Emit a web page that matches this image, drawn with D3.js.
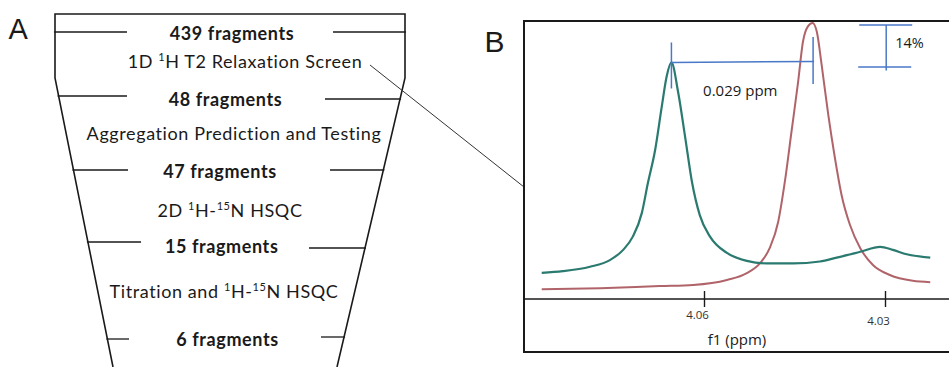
<!DOCTYPE html>
<html><head><meta charset="utf-8">
<script src="https://cdn.jsdelivr.net/npm/d3@7"></script>
<style>body{margin:0;background:#fff} svg{display:block}</style>
</head><body><svg id="c" width="949" height="367"></svg>
<script>
// ---------- DATA ----------
const panelLabels = ["A", "B"];
const fragmentCounts = [439, 48, 47, 15, 6];
const stepLabels = [
  "1D {1}H T2 Relaxation Screen",
  "Aggregation Prediction and Testing",
  "2D {1}H-{15}N HSQC",
  "Titration and {1}H-{15}N HSQC"
];
const tickValues = [4.06, 4.03];
const tickLabels = ["4.06", "4.03"];
const axisTitle = "f1 (ppm)";
const shiftLabel = "0.029 ppm";
const heightLabel = "14%";

// green (teal) spectrum
const tealPpm = [4.0869, 4.0834, 4.0789, 4.0756, 4.0734, 4.0718, 4.0703, 4.0693, 4.0681, 4.0670, 4.0662, 4.0654, 4.0643, 4.0631, 4.0620, 4.0607, 4.0590, 4.0562, 4.0529, 4.0496, 4.0452, 4.0408, 4.0380, 4.0341, 4.0308, 4.0287, 4.0264, 4.0225];
const tealInt = [9.5, 10.1, 11.7, 14.1, 17.8, 22.6, 31.2, 42.0, 54.0, 69.7, 80.5, 85.7, 75.1, 58.3, 42.5, 30.4, 22.6, 16.7, 13.8, 12.9, 12.9, 13.6, 15.0, 17.1, 18.9, 17.8, 16.2, 15.0];
// red spectrum
const redPpm = [4.0869, 4.0772, 4.0673, 4.0618, 4.0562, 4.0529, 4.0507, 4.0491, 4.0477, 4.0466, 4.0455, 4.0444, 4.0436, 4.0428, 4.0420, 4.0413, 4.0405, 4.0394, 4.0383, 4.0372, 4.0358, 4.0341, 4.0320, 4.0292, 4.0254, 4.0225];
const redInt = [3.5, 3.9, 4.7, 5.1, 6.9, 9.4, 13.0, 18.5, 28.0, 42.5, 60.6, 78.7, 93.2, 98.7, 100, 96.8, 84.8, 66.7, 51.1, 37.7, 26.8, 18.4, 12.3, 8.7, 6.6, 6.1];

// ---------- LAYOUT ----------
const svg = d3.select("#c");
const ink = "#1a1a1a";

// Panel A : funnel
const fTop = 14, fKnee = 78, fBot = 367;
const fL0 = 55, fLB = 113, fR0 = 405, fRB = 337;
const leftEdge = yy => yy <= fKnee ? fL0 : fL0 + (fLB - fL0) * (yy - fKnee) / (fBot - fKnee);
const rightEdge = yy => yy <= fKnee ? fR0 : fR0 + (fRB - fR0) * (yy - fKnee) / (fBot - fKnee);

const A = svg.append("g");
A.append("path")
  .attr("d", `M${fL0},${fBot - 289 + 289}`) // placeholder overwritten below
  .remove();
A.append("path")
  .attr("d", `M${fLB},${fBot} L${fL0},${fKnee} L${fL0},${fTop} L${fR0},${fTop} L${fR0},${fKnee} L${fRB},${fBot}`)
  .attr("fill", "none").attr("stroke", ink).attr("stroke-width", 1.6);

const rowLeftY = [32, 96, 170, 242, 339];
const rowRightY = [32, 99, 170, 248, 337];
const rowLeftEnd = [127, 127, 128, 141, 129];
const rowRightStart = [333, 325, 330, 309, 321];
fragmentCounts.forEach((c, i) => {
  A.append("line").attr("x1", leftEdge(rowLeftY[i]) - 1).attr("x2", rowLeftEnd[i])
    .attr("y1", rowLeftY[i]).attr("y2", rowLeftY[i])
    .attr("stroke", ink).attr("stroke-width", 1.3);
  A.append("line").attr("x1", rowRightStart[i]).attr("x2", rightEdge(rowRightY[i]) + 1)
    .attr("y1", rowRightY[i]).attr("y2", rowRightY[i])
    .attr("stroke", ink).attr("stroke-width", 1.3);
});

const countX = [232, 225.5, 220, 221.7, 227.5];
const countY = [40, 106, 178, 252.7, 345.7];
A.selectAll("text.count").data(fragmentCounts).join("text")
  .attr("class", "count")
  .attr("x", (d, i) => countX[i]).attr("y", (d, i) => countY[i])
  .attr("text-anchor", "middle")
  .attr("font-family", "Lato, 'Open Sans', sans-serif")
  .attr("font-weight", 700).attr("font-size", 18)
  .attr("letter-spacing", 0.6)
  .attr("fill", ink)
  .text(d => `${d} fragments`);

const stepX = [245, 234, 230, 224];
const stepY = [68.3, 140, 216.7, 298];
stepLabels.forEach((lab, i) => {
  const t = A.append("text")
    .attr("x", stepX[i]).attr("y", stepY[i])
    .attr("text-anchor", "middle")
    .attr("font-family", "Lato, 'Open Sans', sans-serif")
    .attr("font-size", 18).attr("letter-spacing", 0.6)
    .attr("fill", ink);
  const parts = lab.split(/(\{\d+\})/).filter(s => s.length);
  let raised = false;
  parts.forEach(p => {
    const m = p.match(/^\{(\d+)\}$/);
    if (m) {
      t.append("tspan").attr("font-size", 11).attr("dy", raised ? 0 : -7).text(m[1]);
      raised = true;
    } else {
      t.append("tspan").attr("dy", raised ? 7 : 0).text(p);
      raised = false;
    }
  });
});

svg.append("text").attr("x", 8.5).attr("y", 39.3)
  .attr("font-family", "'Liberation Sans', Arial, sans-serif")
  .attr("font-size", 29).attr("fill", ink).text(panelLabels[0]);

// connector
svg.append("line").attr("x1", 370).attr("y1", 65).attr("x2", 524).attr("y2", 187)
  .attr("stroke", "#333").attr("stroke-width", 1);

// Panel B : spectrum
const x = d3.scaleLinear().domain([4.06, 4.03]).range([704, 885]);
const y = d3.scaleLinear().domain([0, 100]).range([299, 23]);
const B = svg.append("g");

B.append("text").attr("x", 484.5).attr("y", 52.3)
  .attr("font-family", "'Liberation Sans', Arial, sans-serif")
  .attr("font-size", 30).attr("fill", ink).text(panelLabels[1]);

const line = d3.line().x(d => x(d[0])).y(d => y(d[1])).curve(d3.curveMonotoneX);
const teal = tealPpm.map((p, i) => [p, tealInt[i]]);
const red = redPpm.map((p, i) => [p, redInt[i]]);
B.append("path").datum(red).attr("d", line)
  .attr("fill", "none").attr("stroke", "#b0646a").attr("stroke-width", 2);
B.append("path").datum(teal).attr("d", line)
  .attr("fill", "none").attr("stroke", "#2a7a70").attr("stroke-width", 2.2);

// frame
B.append("path").attr("d", "M949,21 H524 V352 H949")
  .attr("fill", "none").attr("stroke", ink).attr("stroke-width", 2);
// axis
B.append("line").attr("x1", 523).attr("x2", 949).attr("y1", y(0)).attr("y2", y(0))
  .attr("stroke", ink).attr("stroke-width", 1.6);
const axis = d3.axisBottom(x).tickValues(tickValues)
  .tickFormat((d, i) => tickLabels[i]).tickSize(8);
const gAx = B.append("g").attr("transform", `translate(0,${y(0)})`).call(axis);
gAx.select(".domain").remove();
gAx.selectAll(".tick line").attr("y1", -8).attr("y2", 8).attr("stroke", ink).attr("stroke-width", 1.4);
const labelDy = [20.3, 26];
gAx.selectAll(".tick text")
  .attr("x", -7).attr("y", (d, i) => labelDy[i]).attr("dy", 0)
  .attr("font-family", "'Open Sans', sans-serif").attr("font-size", 11.5)
  .attr("fill", "#333");
B.append("text").attr("x", 737).attr("y", 345).attr("text-anchor", "middle")
  .attr("font-family", "'Open Sans', sans-serif").attr("font-size", 15)
  .attr("fill", ink).text(axisTitle);

// annotations
const blue = "#4a78c8";
const tIdx = tealInt.indexOf(d3.max(tealInt));
const rIdx = redInt.indexOf(d3.max(redInt));
const gx = x(tealPpm[tIdx]), gy = y(tealInt[tIdx]);
const rx = x(redPpm[rIdx]) + 0.5, ry = y(redInt[rIdx]);
const ann = B.append("g").attr("stroke", blue).attr("stroke-width", 1.5);
ann.append("line").attr("x1", gx).attr("x2", gx).attr("y1", gy - 20).attr("y2", gy + 26);
ann.append("line").attr("x1", gx).attr("x2", rx + 1).attr("y1", gy).attr("y2", gy - 1);
ann.append("line").attr("x1", rx).attr("x2", rx).attr("y1", ry + 14).attr("y2", ry + 61);
const bx = x(4.0298);
ann.append("line").attr("x1", bx - 27).attr("x2", bx + 26).attr("y1", ry + 2).attr("y2", ry + 2);
ann.append("line").attr("x1", bx - 28).attr("x2", bx + 25).attr("y1", gy + 4.5).attr("y2", gy + 4.5);
ann.append("line").attr("x1", bx).attr("x2", bx).attr("y1", ry + 2).attr("y2", gy + 8);
B.append("text").attr("x", (gx + rx) / 2 - 2).attr("y", gy + 34).attr("text-anchor", "middle")
  .attr("font-family", "'Open Sans', sans-serif").attr("font-size", 15)
  .attr("fill", ink).text(shiftLabel);
B.append("text").attr("x", bx + 9).attr("y", 47.7)
  .attr("font-family", "'Open Sans', sans-serif").attr("font-size", 14.5)
  .attr("fill", ink).text(heightLabel);
</script></body></html>
